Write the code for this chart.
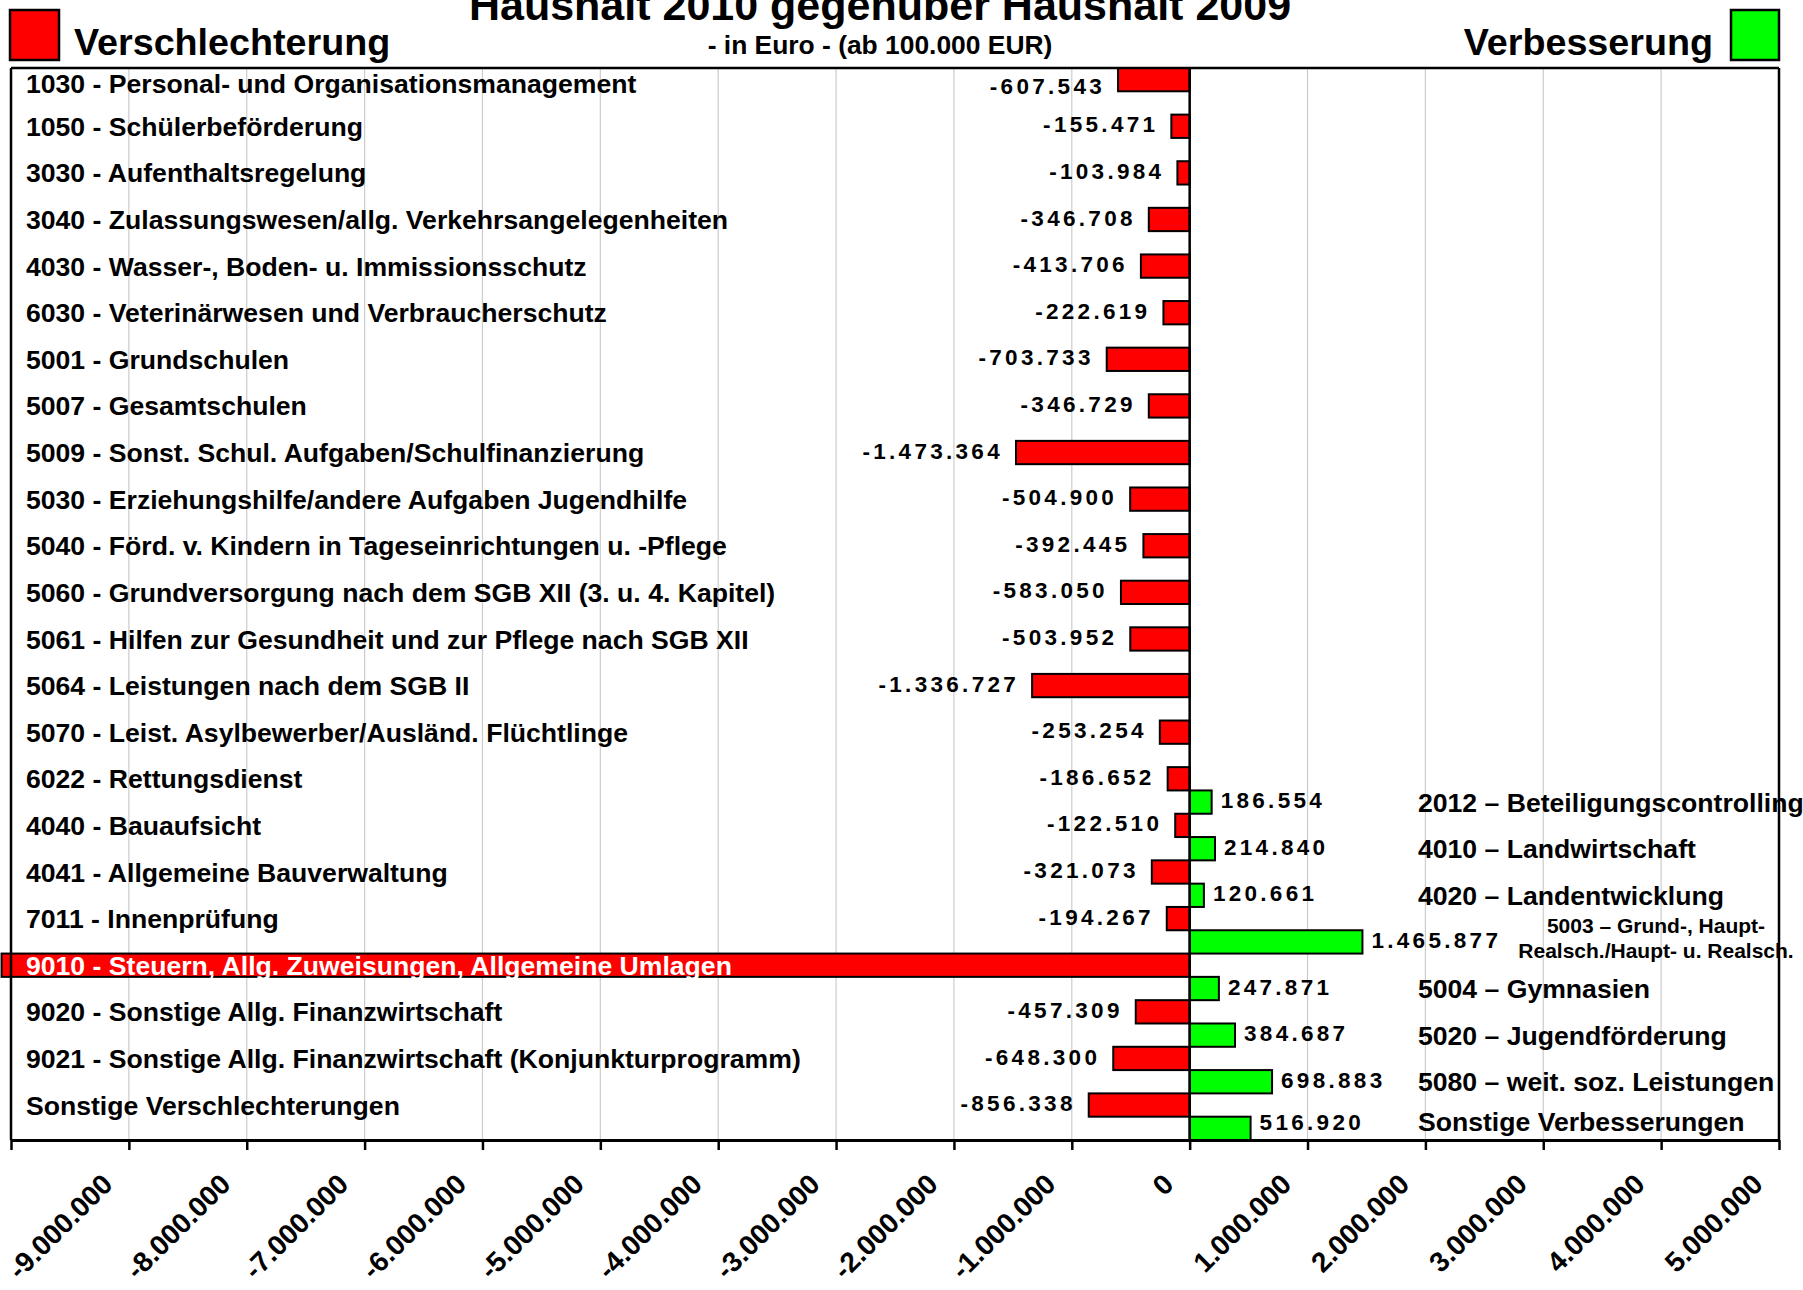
<!DOCTYPE html>
<html>
<head>
<meta charset="utf-8">
<script src="https://cdn.jsdelivr.net/npm/d3@7"></script>
<style>
   html, body { margin: 0; padding: 0; background: #fff; }
   svg { display: block; font-family: 'Liberation Sans', Arial, sans-serif; font-weight: bold; }
</style>
</head>
<body>
<div id="chart"></div>
<script>
// Verschlechterungen (rote Balken), eine Zeile je Produkt
const categories = [
   '1030 - Personal- und Organisationsmanagement',
   '1050 - Schülerbeförderung',
   '3030 - Aufenthaltsregelung',
   '3040 - Zulassungswesen/allg. Verkehrsangelegenheiten',
   '4030 - Wasser-, Boden- u. Immissionsschutz',
   '6030 - Veterinärwesen und Verbraucherschutz',
   '5001 - Grundschulen',
   '5007 - Gesamtschulen',
   '5009 - Sonst. Schul. Aufgaben/Schulfinanzierung',
   '5030 - Erziehungshilfe/andere Aufgaben Jugendhilfe',
   '5040 - Förd. v. Kindern in Tageseinrichtungen u. -Pflege',
   '5060 - Grundversorgung nach dem SGB XII (3. u. 4. Kapitel)',
   '5061 - Hilfen zur Gesundheit und zur Pflege nach SGB XII',
   '5064 - Leistungen nach dem SGB II',
   '5070 - Leist. Asylbewerber/Ausländ. Flüchtlinge',
   '6022 - Rettungsdienst',
   '4040 - Bauaufsicht',
   '4041 - Allgemeine Bauverwaltung',
   '7011 - Innenprüfung',
   '9010 - Steuern, Allg. Zuweisungen, Allgemeine Umlagen',
   '9020 - Sonstige Allg. Finanzwirtschaft',
   '9021 - Sonstige Allg. Finanzwirtschaft (Konjunkturprogramm)',
   'Sonstige Verschlechterungen',
];
const verschlechterung = [
   -607543, -155471, -103984, -346708, -413706, -222619, -703733, -346729,
   -1473364, -504900, -392445, -583050, -503952, -1336727, -253254, -186652,
   -122510, -321073, -194267, -10080000, -457309, -648300, -856338,
];

// Verbesserungen (grüne Balken), sitzen in den letzten Zeilen
const verbesserungLabels = [
   '2012 – Beteiligungscontrolling',
   '4010 – Landwirtschaft',
   '4020 – Landentwicklung',
   '5003 – Grund-, Haupt-\nRealsch./Haupt- u. Realsch.',
   '5004 – Gymnasien',
   '5020 – Jugendförderung',
   '5080 – weit. soz. Leistungen',
   'Sonstige Verbesserungen',
];
const verbesserung = [186554, 214840, 120661, 1465877, 247871, 384687, 698883, 516920];

const xTickValues = [
   -10000000, -9000000, -8000000, -7000000, -6000000, -5000000, -4000000, -3000000,
   -2000000, -1000000, 0, 1000000, 2000000, 3000000, 4000000, 5000000,
];

const width = 1803;
const height = 1290;
const plot = { left: 11, right: 1779, top: 68, bottom: 1140 };

const de = d3.formatLocale({
   decimal: ',',
   thousands: '.',
   grouping: [3],
   currency: ['', ' €'],
   minus: '-',
});
const fmt = de.format(',d');

// keep texts inside the frame
const clampY = (y, top, bottom) => Math.max(plot.top + top, Math.min(plot.bottom - bottom, y));

const svg = d3
   .select('#chart')
   .append('svg')
   .attr('width', width)
   .attr('height', height);

const xScale = d3
   .scaleLinear()
   .domain([xTickValues[0], xTickValues[xTickValues.length - 1]])
   .range([plot.left, plot.right]);

const yScale = d3
   .scaleBand()
   .domain(d3.range(categories.length))
   .range([plot.top, plot.bottom])
   .padding(0);

// two sub-bars per row: red on top, green below
const subScale = d3
   .scaleBand()
   .domain(['red', 'green'])
   .range([0, yScale.bandwidth()]);

const greenOffset = categories.length - verbesserung.length;
const greenData = verbesserung.map((v, i) => ({
   value: v,
   label: verbesserungLabels[i],
   row: greenOffset + i,
}));
const redData = verschlechterung.map((v, i) => ({
   value: v,
   label: categories[i],
   row: i,
   clipped: v < xScale.domain()[0],
}));

// gridlines
svg.append('g')
   .attr('class', 'grid')
   .selectAll('line')
   .data(xTickValues.filter((d) => d !== 0 && d > xScale.domain()[0] && d < xScale.domain()[1]))
   .join('line')
   .attr('x1', (d) => xScale(d))
   .attr('x2', (d) => xScale(d))
   .attr('y1', plot.top)
   .attr('y2', plot.bottom)
   .attr('stroke', '#cccccc')
   .attr('stroke-width', 1.2);

// bars
const bars = svg.append('g').attr('class', 'bars');
bars.selectAll('.red')
   .data(redData)
   .join('rect')
   .attr('class', 'red')
   .attr('x', (d) => xScale(d.value))
   .attr('y', (d) => yScale(d.row) + subScale('red'))
   .attr('width', (d) => xScale(0) - xScale(d.value))
   .attr('height', subScale.bandwidth())
   .attr('fill', '#ff0000')
   .attr('stroke', '#000')
   .attr('stroke-width', 2);

bars.selectAll('.green')
   .data(greenData)
   .join('rect')
   .attr('class', 'green')
   .attr('x', xScale(0))
   .attr('y', (d) => yScale(d.row) + subScale('green'))
   .attr('width', (d) => xScale(d.value) - xScale(0))
   .attr('height', subScale.bandwidth())
   .attr('fill', '#00ff00')
   .attr('stroke', '#000')
   .attr('stroke-width', 2);

// frame + zero line
const frame = svg.append('g').attr('stroke', '#000').attr('fill', 'none');
frame.append('line')
   .attr('x1', plot.left).attr('x2', plot.right)
   .attr('y1', plot.top).attr('y2', plot.top)
   .attr('stroke-width', 2.5);
frame.append('line')
   .attr('x1', plot.left).attr('x2', plot.left)
   .attr('y1', plot.top).attr('y2', plot.bottom)
   .attr('stroke-width', 2.5);
frame.append('line')
   .attr('x1', plot.right).attr('x2', plot.right)
   .attr('y1', plot.top).attr('y2', plot.bottom)
   .attr('stroke-width', 2.5);
frame.append('line')
   .attr('x1', xScale(0)).attr('x2', xScale(0))
   .attr('y1', plot.top).attr('y2', plot.bottom)
   .attr('stroke-width', 2.5);

// x axis
const xAxis = d3
   .axisBottom(xScale)
   .tickValues(xTickValues)
   .tickSize(10)
   .tickSizeOuter(0)
   .tickFormat((d) => (d === xTickValues[0] ? '' : fmt(d)));

const xAxisG = svg
   .append('g')
   .attr('class', 'axis x-axis')
   .attr('transform', `translate(0,${plot.bottom})`)
   .call(xAxis);
xAxisG.select('.domain').attr('stroke', '#000').attr('stroke-width', 3);
xAxisG.selectAll('.tick line').attr('stroke', '#000').attr('stroke-width', 2.5);
xAxisG
   .selectAll('.tick text')
   .attr('x', 0)
   .attr('y', 0)
   .attr('dy', null)
   .attr('transform', 'translate(-15,46) rotate(-45)')
   .attr('text-anchor', 'end')
   .attr('fill', '#000')
   .attr('font-family', "'Liberation Sans', Arial, sans-serif")
   .attr('font-weight', 'bold')
   .attr('font-size', 28);

// category labels left
const redCenter = (d) => yScale(d.row) + subScale('red') + subScale.bandwidth() / 2;
const greenCenter = (d) => yScale(d.row) + subScale('green') + subScale.bandwidth() / 2;

svg.append('g')
   .selectAll('text')
   .data(redData)
   .join('text')
   .attr('x', 26)
   .attr('y', (d) => clampY(redCenter(d), 15, 19))
   .attr('dy', '0.36em')
   .attr('font-size', 26.6)
   .attr('fill', (d) => (d.clipped ? '#fff' : '#000'))
   .text((d) => d.label);

// value labels
svg.append('g')
   .selectAll('text')
   .data(redData.filter((d) => !d.clipped))
   .join('text')
   .attr('x', (d) => xScale(d.value) - 13)
   .attr('y', (d) => clampY(redCenter(d) - 2, 18, 18))
   .attr('dy', '0.36em')
   .attr('text-anchor', 'end')
   .attr('font-size', 22.5)
   .attr('letter-spacing', 3.3)
   .text((d) => fmt(d.value));

svg.append('g')
   .selectAll('text')
   .data(greenData)
   .join('text')
   .attr('x', (d) => xScale(d.value) + 9)
   .attr('y', (d) => clampY(greenCenter(d) - 2, 18, 18))
   .attr('dy', '0.36em')
   .attr('font-size', 22.5)
   .attr('letter-spacing', 3.3)
   .text((d) => fmt(d.value));

// category labels right
const rightLabels = svg
   .append('g')
   .selectAll('text')
   .data(greenData)
   .join('text')
   .attr('y', (d) => clampY(greenCenter(d), 15, 19))
   .attr('dy', '0.36em');

rightLabels
   .filter((d) => !d.label.includes('\n'))
   .attr('x', 1418)
   .attr('font-size', 26.6)
   .text((d) => d.label);

rightLabels
   .filter((d) => d.label.includes('\n'))
   .attr('x', 1656)
   .attr('y', (d) => greenCenter(d) - 4)
   .attr('text-anchor', 'middle')
   .attr('font-size', 21)
   .selectAll('tspan')
   .data((d) => d.label.split('\n').map((t, i, a) => ({ t, i, n: a.length })))
   .join('tspan')
   .attr('x', 1656)
   .attr('dy', (l) => (l.i === 0 ? `${0.36 - 0.6 * (l.n - 1)}em` : '1.2em'))
   .text((l) => l.t);

// header
svg.append('text')
   .attr('x', 880)
   .attr('y', 20)
   .attr('text-anchor', 'middle')
   .attr('font-size', 43)
   .text('Haushalt 2010 gegenüber Haushalt 2009');

svg.append('text')
   .attr('x', 880)
   .attr('y', 54)
   .attr('text-anchor', 'middle')
   .attr('font-size', 26.4)
   .text('- in Euro - (ab 100.000 EUR)');

svg.append('rect')
   .attr('x', 10).attr('y', 10)
   .attr('width', 49).attr('height', 50)
   .attr('fill', '#ff0000')
   .attr('stroke', '#000')
   .attr('stroke-width', 2.5);
svg.append('text')
   .attr('x', 74)
   .attr('y', 55)
   .attr('font-size', 37.7)
   .text('Verschlechterung');

svg.append('rect')
   .attr('x', 1731).attr('y', 10)
   .attr('width', 48).attr('height', 50)
   .attr('fill', '#00ff00')
   .attr('stroke', '#000')
   .attr('stroke-width', 2.5);
svg.append('text')
   .attr('x', 1713)
   .attr('y', 55)
   .attr('text-anchor', 'end')
   .attr('font-size', 37.7)
   .text('Verbesserung');
</script>
</body>
</html>
